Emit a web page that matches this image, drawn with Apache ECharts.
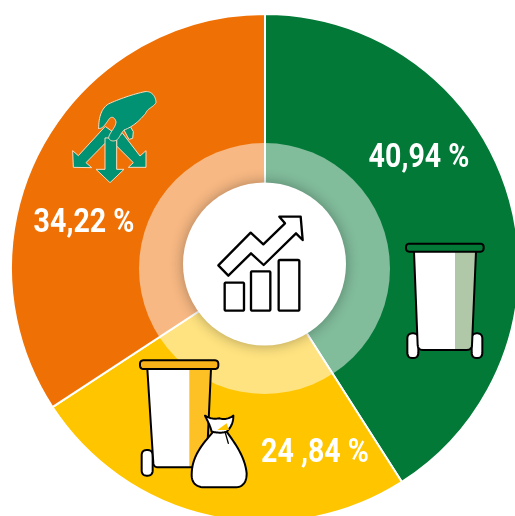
<!DOCTYPE html>
<html><head><meta charset="utf-8">
<style>html,body{margin:0;padding:0;background:#fff}#c{width:515px;height:516px}</style>
<script src="https://cdn.jsdelivr.net/npm/echarts@6/dist/echarts.min.js"></script>
</head><body><div id="c"></div>
<script>
const categories = ['Green bin', 'Yellow bin and bag', 'Sorted by hand'];
const values = [40.94, 24.84, 34.22];
const labels = ['40,94 %', '24 ,84 %', '34,22 %'];
const colors = ['#027936', '#ffc600', '#ef7106'];
const labelAt = [[419, 158], [315, 453], [84, 223]];

const chart = echarts.init(document.getElementById('c'), null, {renderer: 'canvas'});
const K = '#000';
// Flatten an icon outline (M, L, Q, C, Z) to points for ECharts' polygon/polyline graphics.
function flatten(d) {
  const tok = d.match(/[MLQCZ]|-?[\d.]+/g), pts = [];
  let i = 0, cur = [0, 0], closed = false;
  const n = () => parseFloat(tok[i++]);
  while (i < tok.length) {
    const c = tok[i++];
    if (c === 'M' || c === 'L') { cur = [n(), n()]; pts.push(cur); }
    else if (c === 'Q') {
      const a = [n(), n()], b = [n(), n()];
      for (let k = 1; k <= 12; k++) { const t = k / 12, u = 1 - t;
        pts.push([u*u*cur[0] + 2*u*t*a[0] + t*t*b[0], u*u*cur[1] + 2*u*t*a[1] + t*t*b[1]]); }
      cur = b;
    } else if (c === 'C') {
      const a = [n(), n()], b = [n(), n()], e = [n(), n()];
      for (let k = 1; k <= 16; k++) { const t = k / 16, u = 1 - t;
        pts.push([u*u*u*cur[0] + 3*u*u*t*a[0] + 3*u*t*t*b[0] + t*t*t*e[0], u*u*u*cur[1] + 3*u*u*t*a[1] + 3*u*t*t*b[1] + t*t*t*e[1]]); }
      cur = e;
    } else if (c === 'Z') closed = true;
  }
  return {pts, closed};
}
const p = (d, fill, stroke, lw) => {
  const f = flatten(d);
  return {
    type: f.closed ? 'polygon' : 'polyline',
    shape: {points: f.pts},
    style: {fill: fill || 'none', stroke: stroke || K, lineWidth: lw === undefined ? 5 : lw, lineJoin: 'round', lineCap: 'round'}
  };
};
const rr = (x0, y0, x1, y1, r) => `M${x0 + r} ${y0}L${x1 - r} ${y0}Q${x1} ${y0} ${x1} ${y0 + r}L${x1} ${y1 - r}Q${x1} ${y1} ${x1 - r} ${y1}L${x0 + r} ${y1}Q${x0} ${y1} ${x0} ${y1 - r}L${x0} ${y0 + r}Q${x0} ${y0} ${x0 + r} ${y0}Z`;
const group = (x, y, children) => ({type: 'group', x, y, scaleX: 1 / 3, scaleY: 1 / 3, z: 120, children: children.map(c => Object.assign(c, {z: 120}))});

const ICON = '#009272', EDGE = '#f8dcc0';
const handIcon = group(50, 70, [
  p('M165 170L85 257L68 242L70 292L125 293L108 278L165 220L195 192Z', ICON, EDGE, 3),
  p('M218 190L270 258L288 242L288 292L235 292L250 278L200 228L200 205Z', ICON, EDGE, 3),
  p('M165 205L165 298L138 298L180 338L222 298L200 298L200 205Z', ICON, EDGE, 3),
  p('M222 178L240 168L250 185L248 205L238 208Z', ICON, EDGE, 3),
  p('M146 175C146 140 155 115 175 102C205 88 250 72 285 65C305 62 318 80 318 98C310 112 292 115 287 130C270 150 250 170 222 180C212 190 208 205 200 210C190 216 176 212 176 202C180 185 198 172 198 155C194 142 186 138 178 146C168 160 158 178 146 175Z', ICON, EDGE, 3)
]);
const centerIcon = group(170, 190, [
  p(rr(164, 278, 222, 362, 4), '#fff', K, 7),
  p(rr(243, 244, 301, 362, 4), '#fff', K, 7),
  p(rr(326, 210, 388, 362, 4), '#fff', K, 7),
  p('M145 226L242 128L280 163L345 100L328 80L392 80L398 150L378 130L281 225L243 190L175 257Z', '#fff', K, 7)
]);
const greenBin = group(390, 230, [
  p(rr(52, 310, 85, 384, 16), '#fff', K, 6),
  p(rr(245, 310, 277, 384, 16), '#fff', K, 6),
  p('M195 65L258 65L246 345Q245 360 228 360L195 360Z', '#b0c8a8', 'none', 0),
  p('M72 65L195 65L195 360L100 360Q84 360 83 345Z', '#fff', 'none', 0),
  p('M72 65L83 345Q84 360 100 360L228 360Q245 360 246 345L258 65', 'none', K, 6),
  p(rr(48, 41, 281, 65, 11), '#027936', K, 6)
]);
const yellowBin = group(130, 350, [
  p(rr(35, 300, 68, 377, 16), '#fff', K, 6),
  p('M178 57L243 57L230 340Q230 352 215 352L178 352Z', '#fdc126', 'none', 0),
  p('M52 57L178 57L178 352L85 352Q72 352 70 340Z', '#fff', 'none', 0),
  p('M52 57L70 340Q72 352 85 352L215 352Q230 352 230 340L243 57', 'none', K, 6),
  p(rr(30, 31, 265, 57, 11), '#f7b219', K, 6),
  p('M250 245C215 285 185 320 185 375C185 400 200 412 225 412L315 412C340 412 350 395 350 370C345 320 315 280 290 245Z', '#fff', K, 6),
  p('M225 197C240 205 250 208 268 205C285 210 298 205 310 197C310 215 305 230 290 245C275 250 260 248 245 245C240 225 232 212 225 197Z', '#fff', K, 6),
  p('M262 240L290 220L297 240Z', '#ffc600', 'none', 0),
  p('M285 245L295 280', 'none', K, 4)
]);
const valueText = labels.map((text, i) => ({
  type: 'text', z: 130, x: labelAt[i][0], y: labelAt[i][1], scaleX: 0.84,
  style: {text, fill: '#fff', font: 'bold 34px Roboto, sans-serif', align: 'center', verticalAlign: 'middle'}
}));

chart.setOption({
  animation: false,
  backgroundColor: '#fff',
  series: [{
    type: 'pie',
    center: [265, 268],
    radius: [0, 254],
    startAngle: 90,
    clockwise: true,
    silent: true,
    itemStyle: {borderColor: '#fff', borderWidth: 2},
    labelLine: {show: false},
    label: {show: false},
    data: categories.map((name, i) => ({name, value: values[i], itemStyle: {color: colors[i]}}))
  }],
  graphic: {elements: [
    {type: 'circle', z: 100, shape: {cx: 264.5, cy: 268.5, r: 125.5}, style: {fill: 'rgba(255,255,255,0.5)'}},
    {type: 'circle', z: 110, shape: {cx: 264.5, cy: 264, r: 81.5},
      style: {fill: '#fff', shadowBlur: 14, shadowColor: 'rgba(0,0,0,0.32)'}},
    handIcon, centerIcon, greenBin, yellowBin
  ].concat(valueText)}
});
</script></body></html>
